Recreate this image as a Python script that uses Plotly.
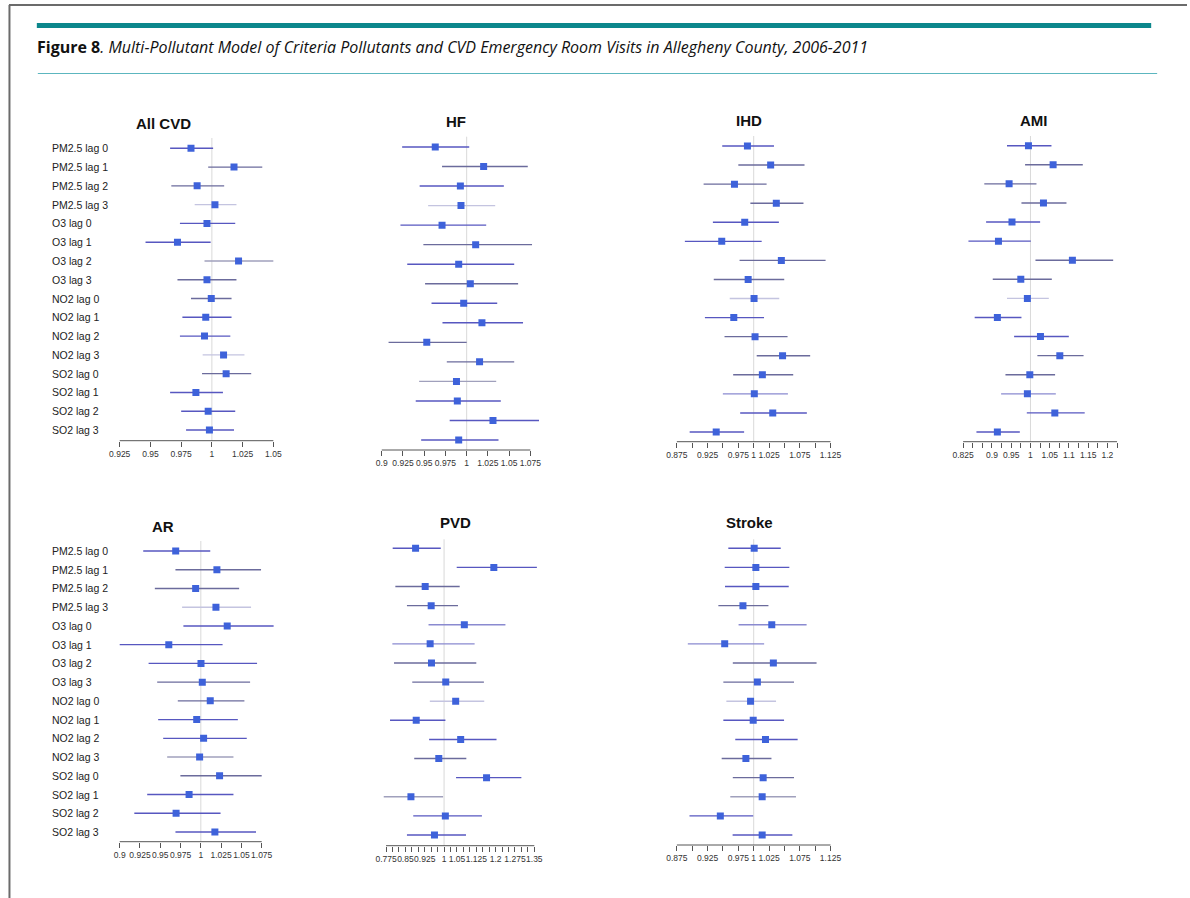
import plotly.graph_objects as go

W, H = 1190, 898

# ---------------- data ----------------
rows = ["PM2.5 lag 0", "PM2.5 lag 1", "PM2.5 lag 2", "PM2.5 lag 3",
        "O3 lag 0", "O3 lag 1", "O3 lag 2", "O3 lag 3",
        "NO2 lag 0", "NO2 lag 1", "NO2 lag 2", "NO2 lag 3",
        "SO2 lag 0", "SO2 lag 1", "SO2 lag 2", "SO2 lag 3"]

panel_titles = ["All CVD", "HF", "IHD", "AMI", "AR", "PVD", "Stroke"]

allcvd_est = [0.983, 1.018, 0.988, 1.0025, 0.996, 0.972, 1.0217, 0.996, 0.9995, 0.995, 0.994, 1.0095, 1.0116, 0.987, 0.997, 0.998]
allcvd_lo = [0.966, 0.997, 0.967, 0.986, 0.974, 0.946, 0.994, 0.972, 0.983, 0.976, 0.974, 0.9925, 0.992, 0.966, 0.975, 0.979]
allcvd_hi = [1.001, 1.041, 1.010, 1.020, 1.019, 0.999, 1.050, 1.020, 1.016, 1.016, 1.015, 1.0265, 1.032, 1.009, 1.019, 1.018]

hf_est = [0.963, 1.020, 0.9926, 0.9933, 0.971, 1.0106, 0.9906, 1.0043, 0.9965, 1.018, 0.953, 1.0152, 0.988, 0.989, 1.031, 0.9906]
hf_lo = [0.924, 0.971, 0.9446, 0.9546, 0.922, 0.949, 0.930, 0.951, 0.9586, 0.9715, 0.908, 0.9766, 0.944, 0.940, 0.980, 0.9464]
hf_hi = [1.003, 1.072, 1.0438, 1.0336, 1.023, 1.077, 1.056, 1.0606, 1.036, 1.0664, 1.000, 1.056, 1.0348, 1.0402, 1.0852, 1.0375]

ihd_est = [0.9898, 1.0276, 0.9687, 1.0368, 0.9854, 0.948, 1.045, 0.991, 1.0006, 0.9676, 1.0022, 1.047, 1.0141, 1.001, 1.031, 0.939]
ihd_lo = [0.9488, 0.975, 0.9185, 0.9946, 0.9336, 0.888, 0.977, 0.935, 0.961, 0.9206, 0.9525, 1.0049, 0.9666, 0.9498, 0.978, 0.8958]
ihd_hi = [1.033, 1.0827, 1.021, 1.081, 1.041, 1.013, 1.117, 1.0497, 1.0416, 1.0168, 1.0551, 1.0919, 1.0643, 1.0557, 1.0865, 0.9844]

ami_est = [0.9948, 1.0589, 0.9445, 1.0338, 0.952, 0.9168, 1.109, 0.9749, 0.992, 0.914, 1.026, 1.0763, 0.9983, 0.992, 1.0633, 0.914]
ami_lo = [0.939, 0.986, 0.880, 0.9766, 0.8847, 0.8388, 1.013, 0.902, 0.939, 0.855, 0.9575, 1.018, 0.935, 0.9237, 0.9905, 0.8596]
ami_hi = [1.0546, 1.136, 1.0156, 1.0936, 1.0251, 1.0009, 1.215, 1.0555, 1.0477, 0.9766, 1.0997, 1.138, 1.064, 1.0659, 1.141, 0.9723]

ar_est = [0.969, 1.0198, 0.9936, 1.0186, 1.0325, 0.9605, 1.0002, 1.0018, 1.0116, 0.9949, 1.0034, 0.9985, 1.0231, 0.9855, 0.9695, 1.0173]
ar_lo = [0.929, 0.9687, 0.9433, 0.9769, 0.9785, 0.900, 0.9356, 0.9462, 0.9716, 0.9474, 0.9536, 0.9585, 0.9748, 0.9339, 0.918, 0.9687]
ar_hi = [1.0116, 1.0742, 1.0472, 1.0619, 1.0897, 1.0268, 1.0693, 1.0607, 1.0537, 1.0456, 1.0566, 1.0402, 1.075, 1.0402, 1.0243, 1.068]

pvd_est = [0.8895, 1.193, 0.9268, 0.950, 1.0786, 0.946, 0.9512, 1.0065, 1.045, 0.892, 1.0644, 0.9795, 1.1648, 0.8715, 1.005, 0.9628]
pvd_lo = [0.8007, 1.049, 0.811, 0.856, 0.9397, 0.7994, 0.8059, 0.8766, 0.9448, 0.7904, 0.942, 0.8843, 1.0464, 0.766, 0.8805, 0.856]
pvd_hi = [0.9872, 1.360, 1.0606, 1.054, 1.238, 1.1185, 1.125, 1.1545, 1.1558, 1.0053, 1.2034, 1.0863, 1.2998, 0.9962, 1.1468, 1.085]

stroke_est = [1.0008, 1.0035, 1.0035, 0.9825, 1.0294, 0.9528, 1.032, 1.006, 0.9949, 0.9992, 1.0192, 0.9873, 1.0154, 1.0138, 0.9457, 1.0138]
stroke_lo = [0.9587, 0.9528, 0.9533, 0.9425, 0.9754, 0.8928, 0.966, 0.9506, 0.9555, 0.9506, 0.970, 0.9479, 0.966, 0.9619, 0.8955, 0.9657]
stroke_hi = [1.044, 1.058, 1.057, 1.024, 1.0861, 1.017, 1.1023, 1.0656, 1.0364, 1.0494, 1.0715, 1.0289, 1.0656, 1.0688, 0.9992, 1.0629]

# tick values / labels per panel
allcvd_ticks = [0.925, 0.95, 0.975, 1, 1.025, 1.05]
allcvd_labels = ["0.925", "0.95", "0.975", "1", "1.025", "1.05"]
hf_ticks = [0.9, 0.925, 0.95, 0.975, 1, 1.025, 1.05, 1.075]
hf_labels = ["0.9", "0.925", "0.95", "0.975", "1", "1.025", "1.05", "1.075"]
ihd_ticks = [0.875, 0.9, 0.925, 0.95, 0.975, 1, 1.025, 1.05, 1.075, 1.1, 1.125]
ihd_labels = ["0.875", "", "0.925", "", "0.975", "1", "1.025", "", "1.075", "", "1.125"]
ami_ticks = [0.825, 0.85, 0.875, 0.9, 0.925, 0.95, 0.975, 1, 1.025, 1.05, 1.075, 1.1, 1.125, 1.15, 1.175, 1.2, 1.225]
ami_labels = ["0.825", "", "", "0.9", "", "0.95", "", "1", "", "1.05", "", "1.1", "", "1.15", "", "1.2", ""]
ar_ticks = [0.9, 0.925, 0.95, 0.975, 1, 1.025, 1.05, 1.075]
ar_labels = ["0.9", "0.925", "0.95", "0.975", "1", "1.025", "1.05", "1.075"]
pvd_ticks = [0.775, 0.8, 0.825, 0.85, 0.875, 0.9, 0.925, 0.95, 0.975, 1, 1.025, 1.05, 1.075, 1.1,
             1.125, 1.15, 1.175, 1.2, 1.225, 1.25, 1.275, 1.3, 1.325, 1.35]
pvd_labels = ["0.775", "", "", "0.85", "", "", "0.925", "", "", "1", "", "1.05", "", "",
              "1.125", "", "", "1.2", "", "", "1.275", "", "", "1.35"]
stroke_ticks = ihd_ticks
stroke_labels = ihd_labels

# ---------------- styles ----------------
COL = {"b": "#5757c0", "g": "#6b6b9c", "l": "#c4c4e0", "m": "#8a8ad0", "s": "#a0a0bc"}
allcvd_col = list("bggLbbsggbblgbbb".replace("L", "l"))
hf_col = list("bgblbgbgbbggsbbb")
ihd_col = list("bgggbbggIbgggmbb".replace("I", "l"))
ami_col = list("bgggbbgglbbggmbb")
ar_col = list("bgglbbbggbbsgbbb")
pvd_col = list("bbggmmgglbbgbsbb")
stroke_col = list("bbbgmmgglbbggsbb")
MARKER = "#3e62da"

# layout geometry in pixels: x calibration (v0, px0, v1, px1), x domain px,
# first row px, last row px, axis px, top of ref line px, title centre
panels = [
    dict(est=allcvd_est, lo=allcvd_lo, hi=allcvd_hi, ticks=allcvd_ticks, labels=allcvd_labels, col=allcvd_col,
         cal=(0.925, 117.3, 1.05, 271.7), dom=(105, 285), first=148.3, last=430, axis=440.7, top=138,
         tx=161, ty=123, rowlabels=True),
    dict(est=hf_est, lo=hf_lo, hi=hf_hi, ticks=hf_ticks, labels=hf_labels, col=hf_col,
         cal=(0.9, 380.7, 1.075, 530), dom=(375, 545), first=147, last=440, axis=450, top=136.7,
         tx=455, ty=121, rowlabels=False),
    dict(est=ihd_est, lo=ihd_lo, hi=ihd_hi, ticks=ihd_ticks, labels=ihd_labels, col=ihd_col,
         cal=(0.875, 677.3, 1.125, 831.7), dom=(670, 840), first=146, last=432, axis=441.7, top=136,
         tx=750, ty=120, rowlabels=False),
    dict(est=ami_est, lo=ami_lo, hi=ami_hi, ticks=ami_ticks, labels=ami_labels, col=ami_col,
         cal=(0.825, 965, 1.2, 1110), dom=(955, 1130), first=145.7, last=432, axis=441.7, top=136,
         tx=1036.7, ty=120, rowlabels=False),
    dict(est=ar_est, lo=ar_lo, hi=ar_hi, ticks=ar_ticks, labels=ar_labels, col=ar_col,
         cal=(0.9, 117.3, 1.075, 260), dom=(105, 285), first=551, last=832, axis=841.7, top=541,
         tx=160.7, ty=526.7, rowlabels=True),
    dict(est=pvd_est, lo=pvd_lo, hi=pvd_hi, ticks=pvd_ticks, labels=pvd_labels, col=pvd_col,
         cal=(0.775, 385, 1.35, 534), dom=(372, 548), first=548.3, last=835, axis=845.7, top=539.3,
         tx=455, ty=522.7, rowlabels=False),
    dict(est=stroke_est, lo=stroke_lo, hi=stroke_hi, ticks=stroke_ticks, labels=stroke_labels, col=stroke_col,
         cal=(0.875, 677.3, 1.125, 831.7), dom=(670, 840), first=548.3, last=835, axis=845, top=539.3,
         tx=750, ty=522.7, rowlabels=False),
]

fig = go.Figure()
shapes = []
annotations = []
layout_axes = {}
n = len(rows)
ypos = list(range(n))

for k, (p, title) in enumerate(zip(panels, panel_titles), start=1):
    v0, p0, v1, p1 = p["cal"]
    def px2v(px):
        return v0 + (px - p0) * (v1 - v0) / (p1 - p0)
    xr = [px2v(p["dom"][0]), px2v(p["dom"][1])]
    s = (p["last"] - p["first"]) / (n - 1)
    yr = [(n - 1) + (p["axis"] - p["last"]) / s, -(p["first"] - p["top"]) / s]
    xa = "x" if k == 1 else f"x{k}"
    ya = "y" if k == 1 else f"y{k}"
    xkey = "xaxis" if k == 1 else f"xaxis{k}"
    ykey = "yaxis" if k == 1 else f"yaxis{k}"
    layout_axes[xkey] = dict(
        domain=[p["dom"][0] / W, p["dom"][1] / W], range=xr, anchor=ya,
        showgrid=False, zeroline=False, showline=False,
        tickmode="array", tickvals=p["ticks"], ticktext=p["labels"],
        ticks="outside", ticklen=5, tickwidth=1, tickcolor="#555555",
        tickangle=0, tickfont=dict(family="Liberation Sans, Arial", size=8.5, color="#333333"),
        fixedrange=True,
    )
    layout_axes[ykey] = dict(
        domain=[1 - p["axis"] / H, 1 - p["top"] / H], range=yr, anchor=xa,
        visible=False, showgrid=False, zeroline=False, fixedrange=True,
    )
    # reference line at 1
    shapes.append(dict(type="line", xref=xa, yref=f"{ya} domain", x0=1, x1=1, y0=0, y1=1,
                       line=dict(color="#d9d9d9", width=1), layer="below"))
    # axis line between first and last tick
    shapes.append(dict(type="line", xref=xa, yref=f"{ya} domain", x0=p["ticks"][0], x1=p["ticks"][-1],
                       y0=0, y1=0, line=dict(color="#555555", width=1)))
    # CI lines
    for i in range(n):
        fig.add_trace(go.Scatter(
            x=[p["lo"][i], p["hi"][i]], y=[ypos[i], ypos[i]], mode="lines",
            line=dict(color=COL[p["col"][i]], width=1.4), xaxis=xa, yaxis=ya,
            showlegend=False, hoverinfo="skip"))
    # point estimates
    fig.add_trace(go.Scatter(
        x=p["est"], y=ypos, mode="markers", xaxis=xa, yaxis=ya,
        marker=dict(symbol="square", size=7, color=MARKER, line=dict(width=0)),
        showlegend=False, text=rows, hovertemplate="%{text}: %{x}<extra></extra>"))
    # panel title
    annotations.append(dict(xref="paper", yref="paper", x=p["tx"] / W, y=1 - p["ty"] / H,
                            text=f"<b>{title}</b>", showarrow=False, xanchor="center", yanchor="middle",
                            font=dict(family="Liberation Sans, Arial", size=15, color="#111111")))
    if p["rowlabels"]:
        for i, lab in enumerate(rows):
            annotations.append(dict(xref="paper", yref=ya, x=47 / W, y=ypos[i], text=lab,
                                    showarrow=False, xanchor="left", yanchor="middle",
                                    font=dict(family="Liberation Sans, Arial", size=10.5, color="#222222")))

# figure header
annotations.append(dict(
    xref="paper", yref="paper", x=32 / W, y=1 - 47.5 / H, xanchor="left", yanchor="middle",
    text="<b>Figure 8</b><i>. Multi-Pollutant Model of Criteria Pollutants and CVD Emergency Room Visits in Allegheny County, 2006-2011</i>",
    showarrow=False, font=dict(family="Open Sans", size=16, color="#111111")))

shapes += [
    dict(type="rect", xref="paper", yref="paper", x0=34 / W, x1=1154 / W, y0=1 - 28 / H, y1=1 - 23 / H,
         fillcolor="#0c878c", line=dict(width=0)),
    dict(type="line", xref="paper", yref="paper", x0=35 / W, x1=1160 / W, y0=1 - 73.5 / H, y1=1 - 73.5 / H,
         line=dict(color="#5cb6bf", width=1.2)),
    dict(type="line", xref="paper", yref="paper", x0=6 / W, x1=1, y0=1 - 5 / H, y1=1 - 5 / H,
         line=dict(color="#6b6b6b", width=2)),
    dict(type="line", xref="paper", yref="paper", x0=6.5 / W, x1=6.5 / W, y0=0, y1=1 - 5 / H,
         line=dict(color="#6b6b6b", width=2)),
]

fig.update_layout(
    width=W, height=H, margin=dict(l=0, r=0, t=0, b=0),
    paper_bgcolor="white", plot_bgcolor="rgba(0,0,0,0)",
    shapes=shapes, annotations=annotations, showlegend=False,
    **layout_axes,
)

fig.write_html("out.html", config={"displayModeBar": False},
               post_script="document.body.style.margin='0';document.body.style.overflow='hidden';")
